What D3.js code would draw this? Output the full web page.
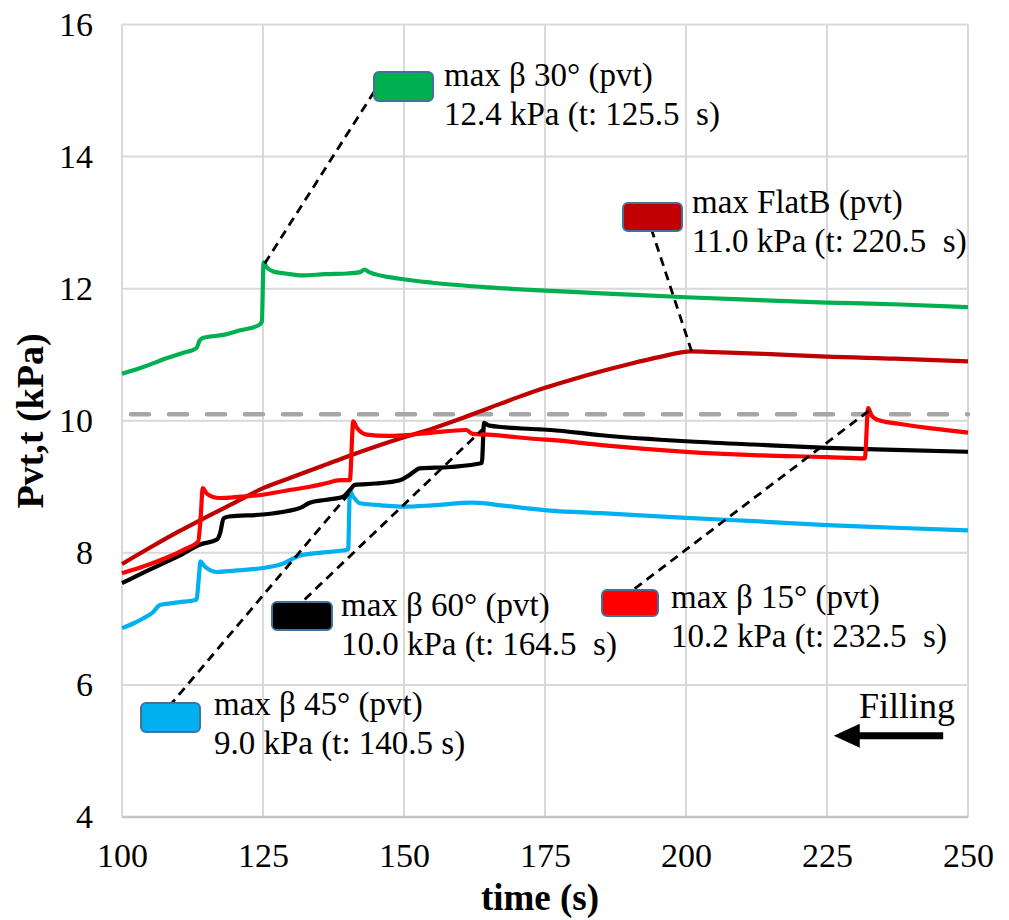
<!DOCTYPE html>
<html>
<head>
<meta charset="utf-8">
<script src="https://cdn.jsdelivr.net/npm/d3@7"></script>
<style>
  body { margin: 0; background: #fff; }
  svg { display: block; font-family: "Liberation Serif", "Times New Roman", serif; }
  .grid-line { stroke: #d9d9d9; stroke-width: 2; }
  .tick text { fill: #000; }
  .leader { stroke: #000; stroke-width: 2.8; stroke-dasharray: 9 6; fill: none; }
  .callout-box { stroke: #41719c; stroke-width: 2; }
  .callout-text { font-family: "Liberation Serif", "Times New Roman", serif; font-size: 33px; fill: #000; }
</style>
</head>
<body>
<svg id="chart" width="1009" height="920" viewBox="0 0 1009 920"></svg>
<script>
const xTicks = [100, 125, 150, 175, 200, 225, 250];
const yTicks = [4, 6, 8, 10, 12, 14, 16];
const thresholdKPa = 10.1;

// time (s), Pvt,t (kPa)
const flatB = [
  [100, 7.83], [105, 8.08], [110, 8.32], [114, 8.50], [120, 8.76], [125, 8.98],
  [130, 9.14], [135, 9.30], [140, 9.46], [145, 9.61], [150, 9.75], [155, 9.88],
  [160, 10.03], [165, 10.19], [170, 10.35], [175, 10.50], [180, 10.63], [185, 10.75],
  [190, 10.86], [195, 10.96], [201, 11.05], [205, 11.04], [215, 11.01], [225, 10.97],
  [237, 10.94], [250, 10.90]
];
const beta30 = [
  [100, 10.71], [104, 10.82], [108, 10.95], [110.5, 11.02], [113.2, 11.10], [113.8, 11.22],
  [114.6, 11.26], [118, 11.30], [121, 11.37], [124.3, 11.45], [124.8, 11.50], [125.1, 12.40],
  [125.6, 12.33], [126.8, 12.26], [129, 12.23], [132, 12.20], [136, 12.22], [140, 12.23],
  [142.2, 12.25], [143, 12.29], [143.8, 12.25], [149.3, 12.15], [155, 12.09], [165, 12.02],
  [175, 11.97], [185, 11.93], [200, 11.87], [212, 11.83], [225, 11.79], [238, 11.76], [250, 11.72]
];
const beta45 = [
  [100, 6.86], [102, 6.93], [103.8, 7.01], [105.5, 7.10], [106.7, 7.21], [110, 7.25],
  [113.2, 7.29], [113.6, 7.60], [113.9, 7.87], [114.6, 7.80], [116.8, 7.71], [120, 7.73],
  [125, 7.77], [128.6, 7.84], [131.6, 7.96], [135, 8.00], [140.1, 8.05], [140.4, 8.93],
  [141, 8.85], [142.2, 8.75], [146, 8.72], [150, 8.70], [155, 8.72], [162.3, 8.76],
  [168, 8.71], [175.9, 8.64], [185, 8.60], [200, 8.53], [212, 8.48], [225, 8.42],
  [237, 8.38], [250, 8.34]
];
const beta60 = [
  [100, 7.54], [105, 7.75], [110, 7.95], [114, 8.13], [116.8, 8.20], [117.4, 8.30],
  [118, 8.52], [119, 8.55], [125, 8.58], [129.2, 8.63], [131.6, 8.68], [133.3, 8.76],
  [136, 8.80], [139.2, 8.85], [140.4, 8.95], [141.3, 9.03], [145, 9.05], [149.3, 9.10],
  [151, 9.18], [152.8, 9.28], [158.2, 9.30], [163.8, 9.36], [164.2, 9.97], [165, 9.93],
  [168, 9.90], [174.1, 9.87], [176, 9.86], [185, 9.78], [200, 9.69], [212, 9.64],
  [225, 9.59], [237, 9.56], [250, 9.53]
];
const beta15 = [
  [100, 7.69], [104, 7.80], [108, 7.93], [111, 8.05], [113.5, 8.17], [114, 8.60],
  [114.3, 8.98], [115, 8.90], [116, 8.85], [117.4, 8.83], [121, 8.85], [125, 8.88],
  [129, 8.94], [133.3, 9.00], [136, 9.05], [138.7, 9.10], [140.4, 9.10], [141, 9.99],
  [141.6, 9.90], [142.5, 9.82], [143.4, 9.79], [147, 9.77], [150, 9.78], [155, 9.82],
  [161, 9.86], [162.2, 9.80], [165, 9.79], [170, 9.75], [174.1, 9.72], [176, 9.71],
  [185, 9.63], [200, 9.53], [212, 9.48], [225, 9.45], [231.7, 9.43], [232.3, 10.19],
  [232.9, 10.08], [233.8, 10.02], [238, 9.95], [244, 9.88], [250, 9.82]
];

const seriesNames = ["FlatB", "β 30°", "β 45°", "β 60°", "β 15°"];
const seriesValues = [flatB, beta30, beta45, beta60, beta15];
const seriesColors = ["#c00000", "#00b050", "#00b0f0", "#000000", "#ff0000"];

// callouts: label lines and the point each leader starts from
const calloutLines = [
  ["max FlatB (pvt)", "11.0 kPa (t: 220.5\u2002s)"],
  ["max β 30° (pvt)", "12.4 kPa (t: 125.5\u2002s)"],
  ["max β 45° (pvt)", "9.0 kPa (t: 140.5 s)"],
  ["max β 60° (pvt)", "10.0 kPa (t: 164.5\u2002s)"],
  ["max β 15° (pvt)", "10.2 kPa (t: 232.5\u2002s)"]
];
const calloutPeaks = [[201, 11.05], [125.3, 12.38], [140.3, 8.9], [164.3, 9.9], [232.4, 10.15]];

const width = 1009;
const height = 920;
const margin = { top: 24.5, right: 41, bottom: 103, left: 122 };

// box top-left (px), leader end on the box, text x and first baseline
const calloutLayout = [
  { x: 623, y: 203, w: 59, h: 28, endX: 652, endY: 231, textX: 692, textY: 213 },
  { x: 374, y: 72, w: 59, h: 29, endX: 374, endY: 92, textX: 444, textY: 86 },
  { x: 141, y: 703, w: 59, h: 29, endX: 172, endY: 703, textX: 214, textY: 715 },
  { x: 272, y: 602, w: 60, h: 28, endX: 302, endY: 602, textX: 341, textY: 616 },
  { x: 602, y: 590, w: 56, h: 26, endX: 633, endY: 590, textX: 671, textY: 608 }
];

const svg = d3.select("#chart");
svg.append("rect").attr("width", width).attr("height", height).attr("fill", "#fff");

const xScale = d3.scaleLinear().domain([100, 250]).range([margin.left, width - margin.right]);
const yScale = d3.scaleLinear().domain([4, 16]).range([height - margin.bottom, margin.top]);

svg.append("g")
  .selectAll("line")
  .data(yTicks)
  .join("line")
  .attr("class", "grid-line")
  .attr("x1", margin.left)
  .attr("x2", width - margin.right)
  .attr("y1", d => yScale(d))
  .attr("y2", d => yScale(d));

svg.append("g")
  .selectAll("line")
  .data(xTicks)
  .join("line")
  .attr("class", "grid-line")
  .attr("x1", d => xScale(d))
  .attr("x2", d => xScale(d))
  .attr("y1", margin.top)
  .attr("y2", height - margin.bottom);

svg.append("line")
  .attr("x1", margin.left)
  .attr("x2", width - margin.right)
  .attr("y1", yScale(4))
  .attr("y2", yScale(4))
  .attr("stroke", "#c4c4c4")
  .attr("stroke-width", 2.5);

const xAxis = svg.append("g")
  .attr("transform", `translate(0, ${height - margin.bottom})`)
  .call(d3.axisBottom(xScale).tickValues(xTicks).tickSize(0).tickPadding(26));
xAxis.select(".domain").remove();
xAxis.selectAll("text").attr("font-size", 34).attr("font-family", "Liberation Serif");

const yAxis = svg.append("g")
  .attr("transform", `translate(${margin.left}, 0)`)
  .call(d3.axisLeft(yScale).tickValues(yTicks).tickSize(0).tickPadding(29));
yAxis.select(".domain").remove();
yAxis.selectAll("text").attr("font-size", 34).attr("font-family", "Liberation Serif");

// 10.1 kPa reference
svg.append("line")
  .attr("x1", xScale(100))
  .attr("x2", xScale(250))
  .attr("y1", yScale(thresholdKPa))
  .attr("y2", yScale(thresholdKPa))
  .attr("stroke", "#a6a6a6")
  .attr("stroke-width", 4.5)
  .attr("stroke-linecap", "round")
  .attr("stroke-dasharray", "18 20")
  .attr("stroke-dashoffset", -9);

const line = d3.line()
  .x(d => xScale(d[0]))
  .y(d => yScale(d[1]))
  .curve(d3.curveMonotoneX);

svg.append("g")
  .selectAll("path")
  .data(seriesValues)
  .join("path")
  .attr("d", d => line(d))
  .attr("fill", "none")
  .attr("stroke", (_d, i) => seriesColors[i])
  .attr("stroke-width", 4.2)
  .attr("stroke-linejoin", "round")
  .append("title")
  .text((_d, i) => seriesNames[i]);

const callouts = svg.append("g");

calloutPeaks.forEach((peak, i) => {
  const layout = calloutLayout[i];
  callouts.append("line")
    .attr("class", "leader")
    .attr("x1", xScale(peak[0]))
    .attr("y1", yScale(peak[1]))
    .attr("x2", layout.endX)
    .attr("y2", layout.endY);

  callouts.append("rect")
    .attr("class", "callout-box")
    .attr("x", layout.x)
    .attr("y", layout.y)
    .attr("width", layout.w)
    .attr("height", layout.h)
    .attr("rx", 5)
    .attr("fill", seriesColors[i]);

  callouts.append("text")
    .attr("class", "callout-text")
    .selectAll("tspan")
    .data(calloutLines[i])
    .join("tspan")
    .attr("x", layout.textX)
    .attr("y", (_d, j) => layout.textY + j * 39)
    .text(d => d);
});

// filling direction
const arrowTip = [226.2, 5.23];
const arrowTail = [245.6, 5.23];
const tipX = xScale(arrowTip[0]);
const tailX = xScale(arrowTail[0]);
const arrowY = yScale(arrowTip[1]);
const arrowPath = d3.path();
arrowPath.moveTo(tipX, arrowY);
arrowPath.lineTo(tipX + 26, arrowY - 12);
arrowPath.lineTo(tipX + 26, arrowY - 3.5);
arrowPath.lineTo(tailX, arrowY - 3.5);
arrowPath.lineTo(tailX, arrowY + 3.5);
arrowPath.lineTo(tipX + 26, arrowY + 3.5);
arrowPath.lineTo(tipX + 26, arrowY + 12);
arrowPath.closePath();
svg.append("path").attr("d", arrowPath.toString()).attr("fill", "#000");

svg.append("text")
  .attr("x", xScale(247.7))
  .attr("y", yScale(5.5))
  .attr("text-anchor", "end")
  .attr("font-size", 36)
  .text("Filling");

svg.append("text")
  .attr("x", 540)
  .attr("y", 910)
  .attr("text-anchor", "middle")
  .attr("font-size", 37)
  .attr("font-weight", "bold")
  .text("time (s)");

svg.append("text")
  .attr("transform", "translate(43, 421) rotate(-90)")
  .attr("text-anchor", "middle")
  .attr("font-size", 38)
  .attr("font-weight", "bold")
  .text("Pvt,t (kPa)");
</script>
</body>
</html>
